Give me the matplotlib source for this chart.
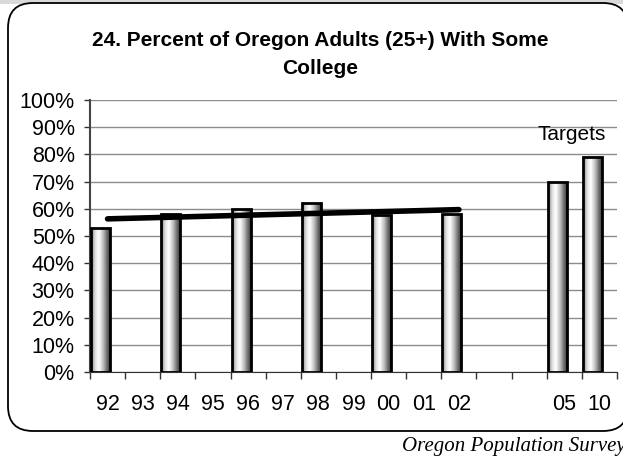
import numpy as np
import matplotlib.pyplot as plt
from matplotlib.colors import LinearSegmentedColormap
from matplotlib.patches import Rectangle, FancyBboxPatch

plt.rcParams['font.family'] = ['Liberation Sans', 'DejaVu Sans']

# data
years = ['92', '93', '94', '95', '96', '97', '98', '99', '00', '01', '02', '', '', '05', '10']
bar_pos = [0, 2, 4, 6, 8, 10, 13, 14]
bar_vals = [53.0, 58.1, 59.9, 62.0, 57.7, 58.0, 70.0, 79.0]
trend_x = [0, 10]
trend_y = [56.3, 59.7]

W, H = 623, 463
fig = plt.figure(figsize=(W / 100, H / 100), dpi=100)

# gray strip at the top and rounded frame
fig.patches.append(Rectangle((0, 1 - 4 / H), 1, 4 / H, transform=fig.transFigure,
                             facecolor='#d9d9d9', edgecolor='none', zorder=-2))
fig.patches.append(FancyBboxPatch((8 / W, (H - 431) / H), 620 / W, 428 / H,
                                  boxstyle='round,pad=0,rounding_size=0.04',
                                  mutation_aspect=W / H,
                                  transform=fig.transFigure, facecolor='white',
                                  edgecolor='black', linewidth=1.3, zorder=-1))

ax = fig.add_axes([90 / W, (H - 372) / H, (617 - 90) / W, 272 / H])
ax.set_facecolor('none')
ax.set_xlim(-0.5, len(years) - 0.5)
ax.set_ylim(0, 100)

cmap = LinearSegmentedColormap.from_list('cyl', [
    (0.0, '#8a8a8a'), (0.25, '#e8e8e8'), (0.42, '#ffffff'),
    (0.65, '#bdbdbd'), (0.85, '#6e6e6e'), (1.0, '#3c3c3c')])
grad = np.linspace(0, 1, 64).reshape(1, -1)
width = 0.54
for x, v in zip(bar_pos, bar_vals):
    left = x - 0.47
    im = ax.imshow(grad, cmap=cmap, aspect='auto', extent=(left, left + width, 0, v),
                   zorder=2)
    rect = Rectangle((left, 0), width, v, facecolor='none', edgecolor='black',
                     linewidth=2, zorder=3)
    ax.add_patch(rect)
    im.set_clip_path(rect)

ax.plot(trend_x, trend_y, color='black', linewidth=4, solid_capstyle='round', zorder=4)

ax.text(13.2, 87.5, 'Targets', ha='center', va='center', fontsize=15)

ax.set_yticks(np.arange(0, 101, 10))
ax.set_yticklabels([f'{t}%' for t in range(0, 101, 10)], fontsize=15.5)
ax.yaxis.grid(True, color='#8c8c8c', linewidth=1)
ax.set_axisbelow(True)
ax.set_xticks(range(len(years)))
ax.set_xticklabels(years, fontsize=15.5)
ax.set_xticks(np.arange(-0.5, len(years), 1), minor=True)
ax.tick_params(axis='x', which='major', length=0, pad=16)
ax.tick_params(axis='x', which='minor', length=5, width=1, color='#333333')
ax.tick_params(axis='y', length=4, width=1, color='#333333', pad=7)
for s in ['top', 'right']:
    ax.spines[s].set_visible(False)
ax.spines['left'].set_color('#444444')
ax.spines['left'].set_linewidth(1.5)
ax.spines['bottom'].set_color('#333333')

fig.text(320 / W, (H - 40) / H, '24. Percent of Oregon Adults (25+) With Some',
         ha='center', va='center', fontsize=15, fontweight='bold')
fig.text(320 / W, (H - 68) / H, 'College',
         ha='center', va='center', fontsize=15, fontweight='bold')
# the source line runs off the right edge in the reference as well
fig.text(402 / W, (H - 447) / H, 'Oregon Population Survey', ha='left', va='center',
         fontsize=15, style='italic', family='Liberation Serif')

fig.savefig('out.png', dpi=100)
